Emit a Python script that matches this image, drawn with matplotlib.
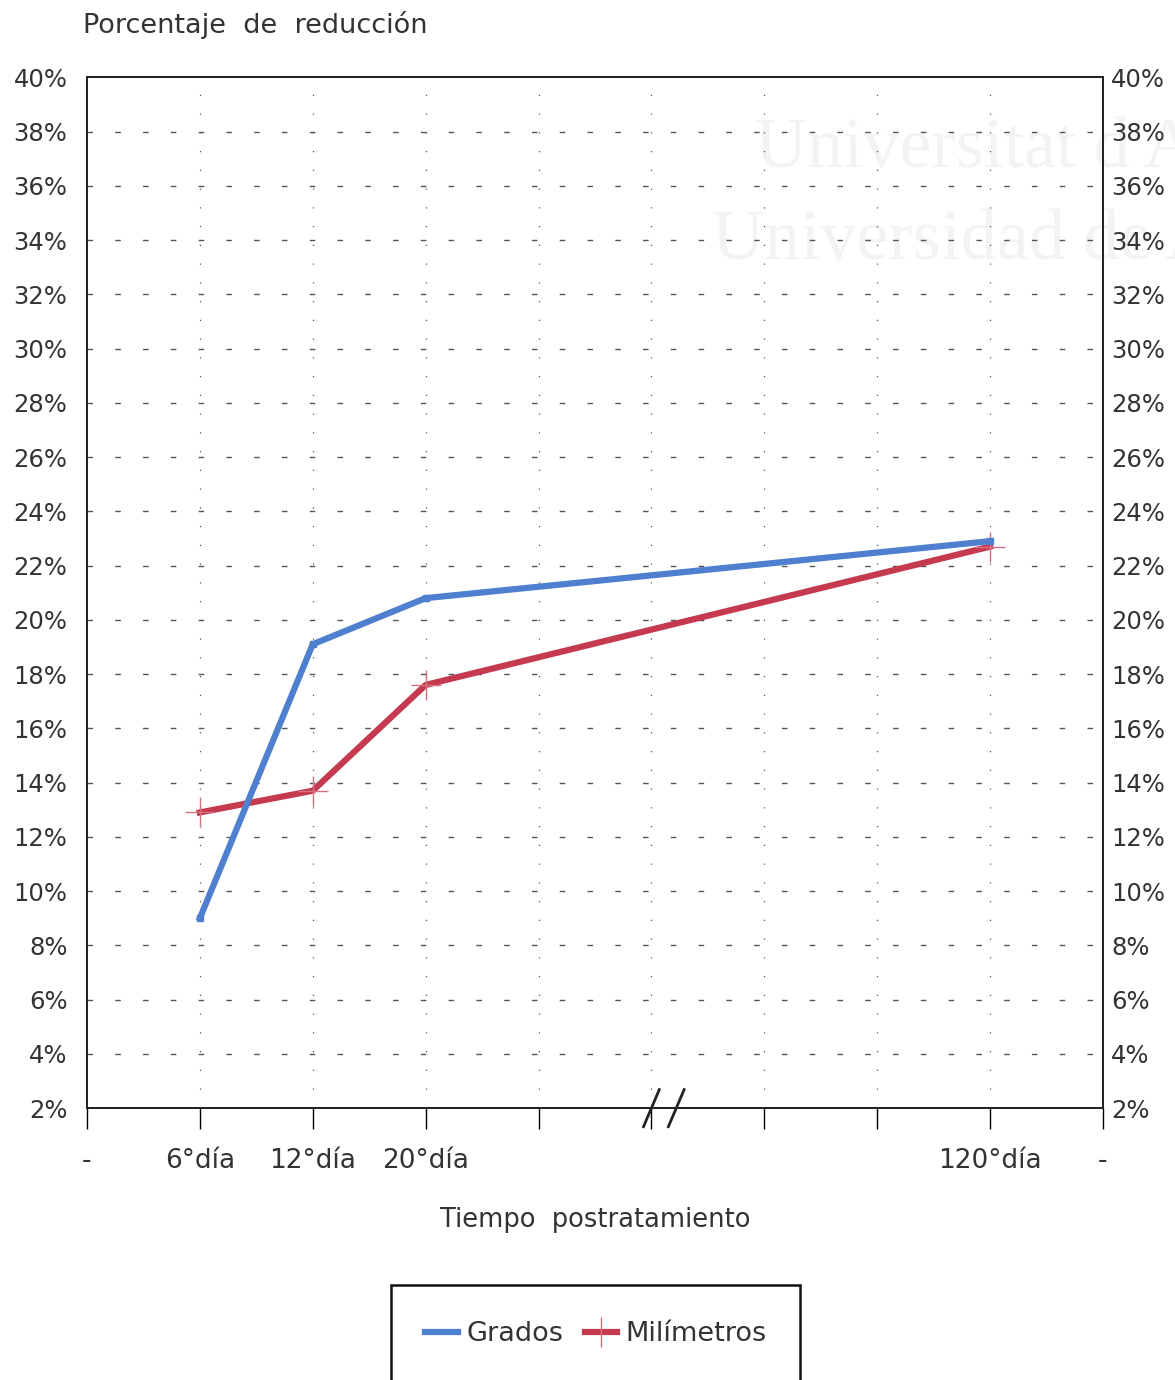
import matplotlib.pyplot as plt
from matplotlib.patches import Rectangle
from matplotlib.lines import Line2D

plt.rcParams["font.family"] = ["DejaVu Sans"]

# x positions are category slots; 4-7 are empty (axis break between 20º and 120º)
tick_labels = ["-", "6°día", "12°día", "20°día", "", "", "", "", "120°día", "-"]
days = [1, 2, 3, 8]
grados = [9.0, 19.1, 20.8, 22.9]
milimetros = [12.9, 13.7, 17.6, 22.7]

BLUE = "#4f7fcf"
RED = "#c63a50"
TXT = "#333333"

fig = plt.figure(figsize=(11.75, 13.8), dpi=100)
ax = fig.add_axes([0.074, 0.197, 0.8647, 0.747])

ax.set_xlim(0, 9)
ax.set_ylim(2, 40)

# faint watermark behind everything
fig.text(755 / 1175, 1 - 150 / 1380, "Universitat d'A", fontsize=52,
         family="Liberation Serif", color="#f3f3f3", va="center", zorder=-5)
fig.text(712 / 1175, 1 - 242 / 1380, "Universidad de A", fontsize=52,
         family="Liberation Serif", color="#f3f3f3", va="center", zorder=-5)
ax.patch.set_alpha(0)

# grid
for x in range(1, 9):
    ax.axvline(x, color="#555555", lw=0.9, ls=(0, (1, 14)), zorder=1)
for y in range(4, 40, 2):
    ax.axhline(y, color="#555555", lw=1.0, ls=(0, (4, 16)), zorder=1)

ax.plot(days, grados, color=BLUE, lw=4.5, marker="s", ms=5,
        solid_joinstyle="round", zorder=3, label="Grados")
ax.plot(days, milimetros, color=RED, lw=4.5, zorder=2, label="Milímetros")
ax.plot(days, milimetros, ls="none", marker="+", ms=22, mew=1.0,
        color="#d77080", zorder=2)

yt = list(range(2, 41, 2))
ylabels = [f"{v}%" for v in yt]
ax.set_yticks(yt)
ax.set_yticklabels(ylabels)
ax.tick_params(axis="y", length=0, pad=14, labelsize=17.5, labelcolor=TXT)

ax.set_xticks(range(10))
ax.set_xticklabels(tick_labels)
ax.tick_params(axis="x", direction="out", length=15, width=1.0,
               pad=14, labelsize=19, labelcolor=TXT)

ax2 = ax.twinx()
ax2.set_ylim(2, 40)
ax2.set_yticks(yt)
ax2.set_yticklabels(ylabels)
ax2.tick_params(axis="y", length=0, pad=6, labelsize=17.5, labelcolor=TXT)

for a in (ax, ax2):
    for s in a.spines.values():
        s.set_linewidth(1.3)
        s.set_color("#222222")

# axis break mark
trans = ax.get_xaxis_transform()
for xb in (5.0, 5.22):
    ax.plot([xb - 0.07, xb + 0.07], [-0.018, 0.018], color="#222222",
            lw=2, transform=trans, clip_on=False, zorder=5)

fig.text(83 / 1175, 1 - 25 / 1380, "Porcentaje  de  reducción",
         fontsize=19.5, color=TXT, va="center", ha="left")
fig.text(595 / 1175, 1 - 1220 / 1380, "Tiempo  postratamiento",
         fontsize=18.5, color=TXT, ha="center", va="center")

# legend box (bottom edge runs off the page)
fig.patches.append(Rectangle((391 / 1175, -0.02), 409 / 1175,
                             1 - 1285 / 1380 + 0.02, transform=fig.transFigure,
                             fill=False, lw=1.8, ec="#111111"))
handles = [Line2D([], [], color=BLUE, lw=4.5),
           Line2D([], [], color=RED, lw=4.5, marker="|", ms=22, mew=1.0,
                  mec="#d77080")]
fig.legend(handles, ["Grados", "Milímetros"], loc="center",
           bbox_to_anchor=(596 / 1175, 1 - 1334 / 1380), ncol=2, frameon=False,
           fontsize=19.5, handlelength=1.2, handletextpad=0.3, columnspacing=0.8,
           labelcolor=TXT)

fig.savefig("out.png", dpi=100)
